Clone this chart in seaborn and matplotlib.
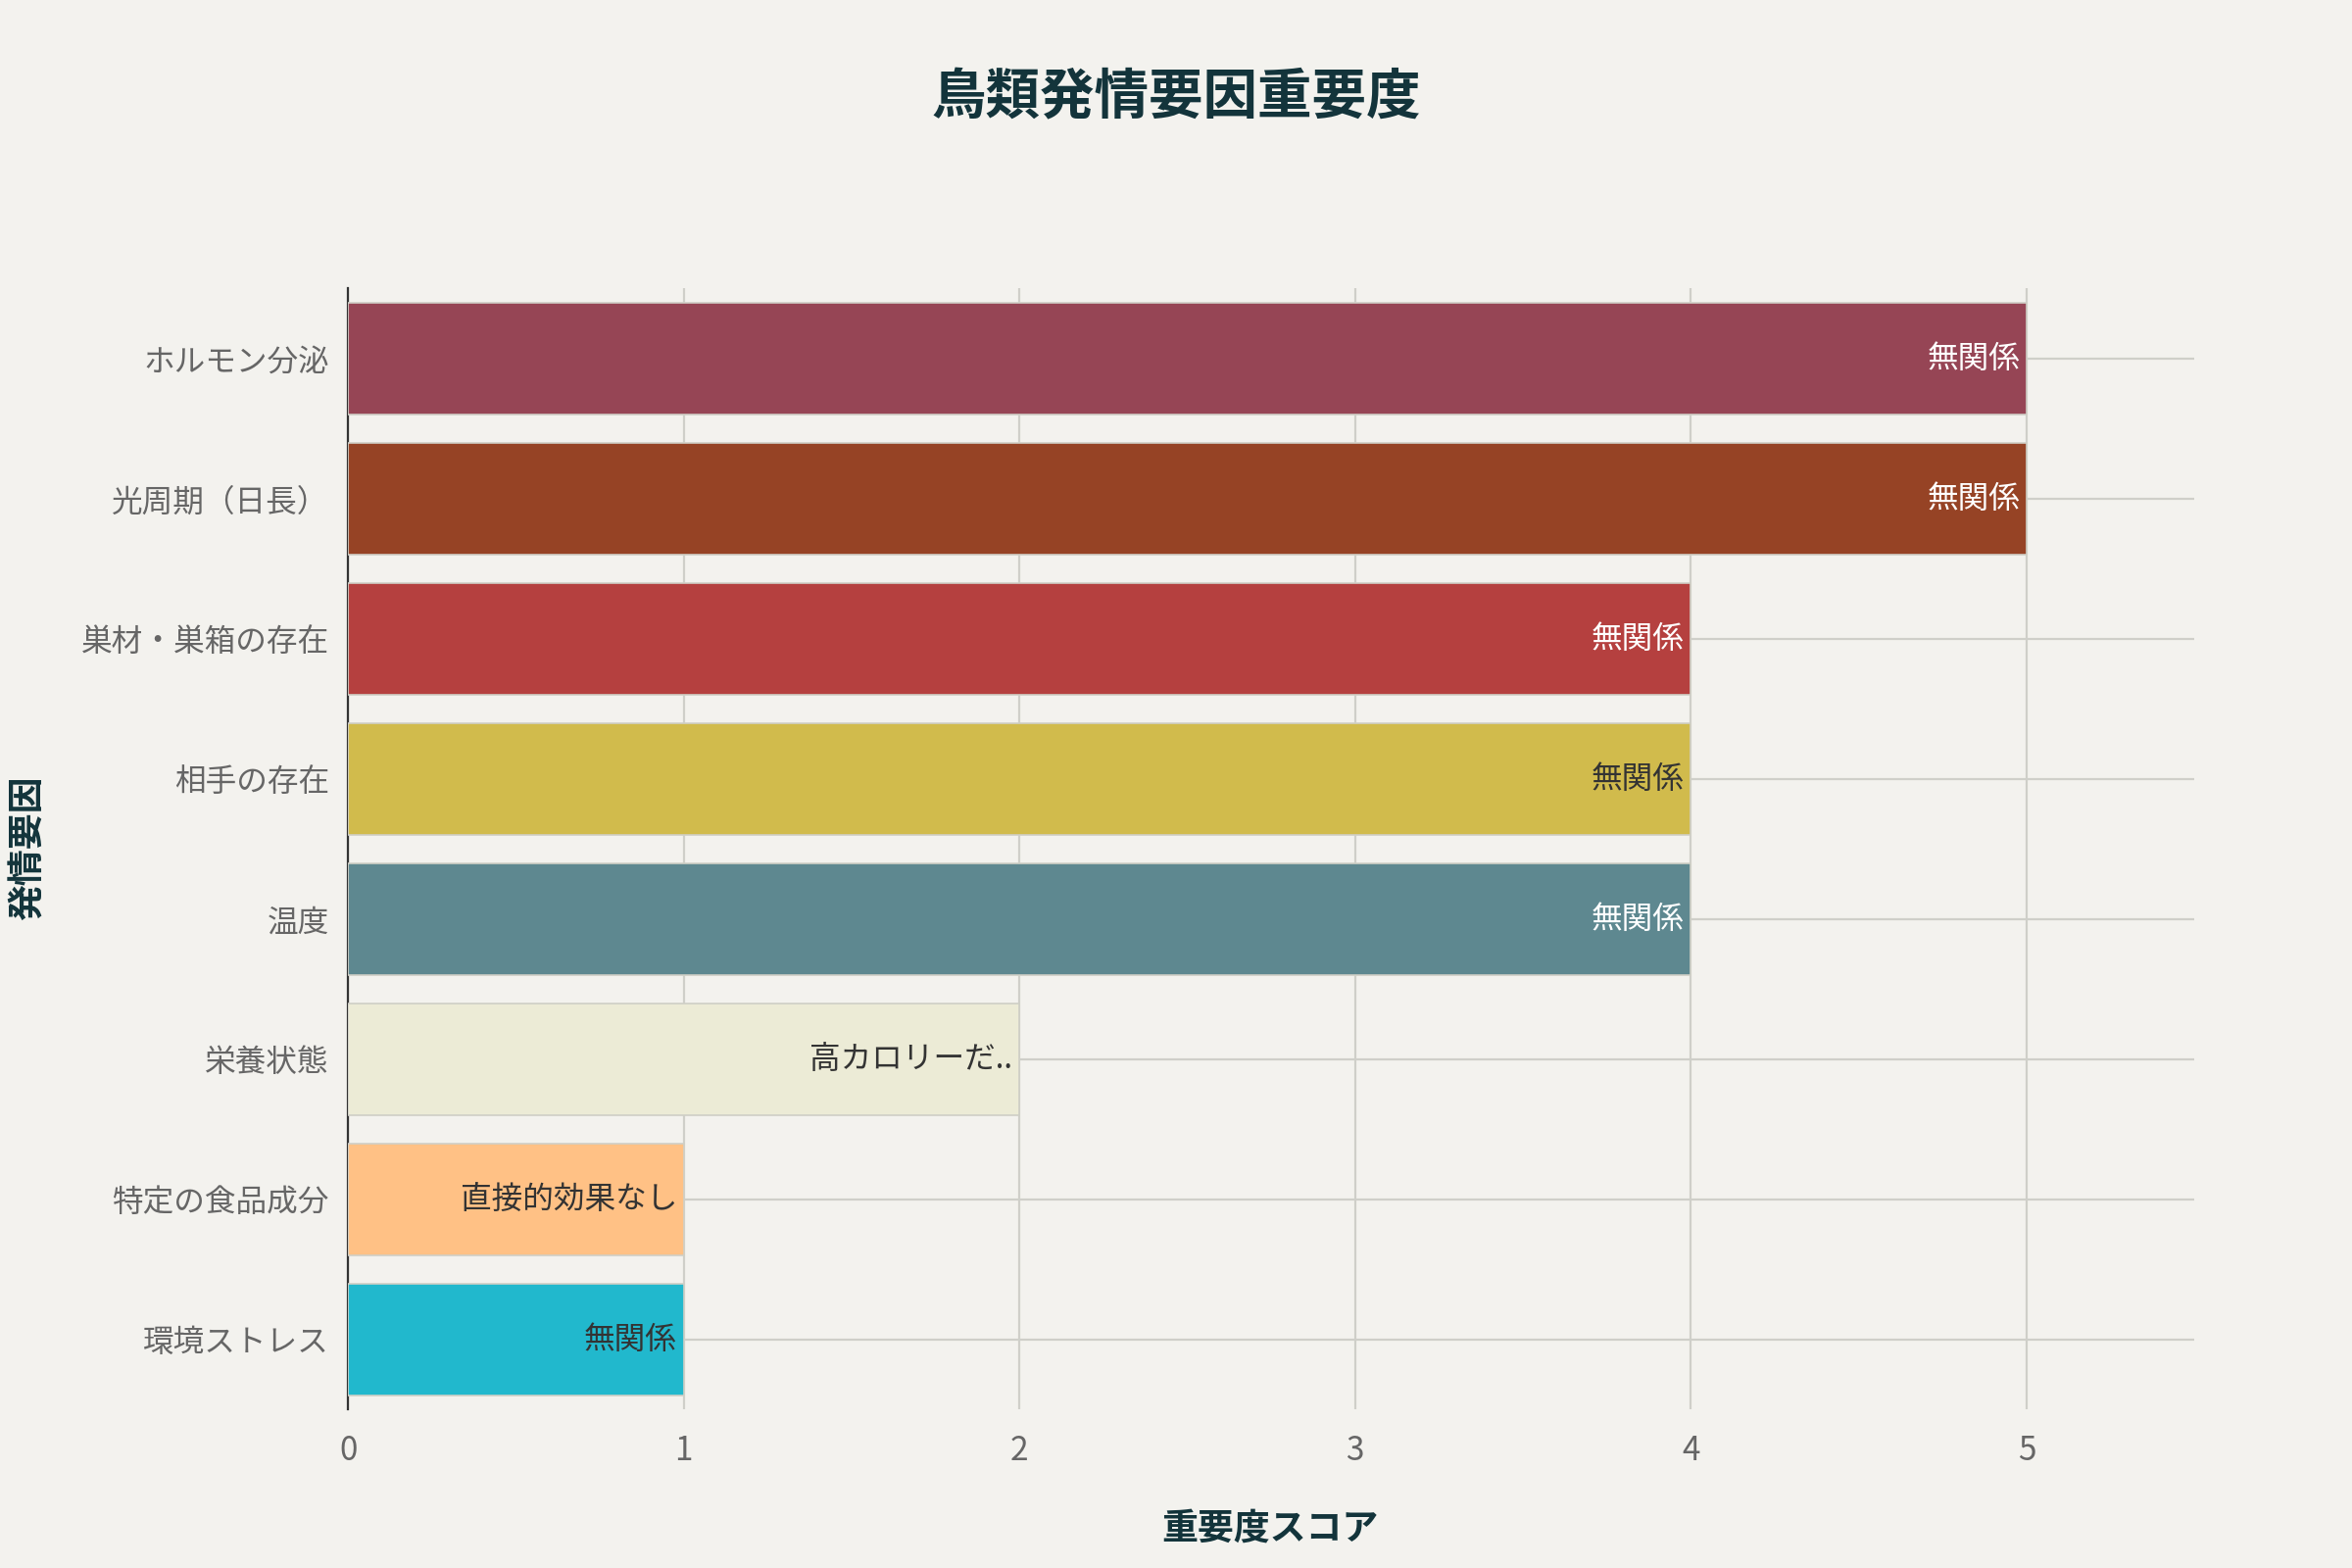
import matplotlib
matplotlib.use("Agg")
import matplotlib.pyplot as plt
import seaborn as sns
import pandas as pd

# Chart data
factors = ["ホルモン分泌", "光周期（日長）", "巣材・巣箱の存在", "相手の存在",
           "温度", "栄養状態", "特定の食品成分", "環境ストレス"]
scores = [5, 5, 4, 4, 4, 2, 1, 1]
notes = ["無関係", "無関係", "無関係", "無関係", "無関係",
         "高カロリーだ..", "直接的効果なし", "無関係"]
bar_colors = ["#964555", "#964325", "#B5403F", "#D1BB4C",
              "#5E8890", "#ECEBD6", "#FFC185", "#21B8CD"]
note_colors = ["white", "white", "white", "#333333",
               "white", "#333333", "#333333", "#333333"]

df = pd.DataFrame({"factor": factors, "score": scores})

bg = "#F3F2EE"
sns.set_style("white")
plt.rcParams["font.family"] = ["Noto Sans CJK JP", "DejaVu Sans"]

fig = plt.figure(figsize=(12, 8), dpi=200, facecolor=bg)
ax = fig.add_axes([0.148, 0.101, 0.785, 0.715])
ax.set_facecolor(bg)

sns.barplot(data=df, x="score", y="factor", hue="factor", palette=bar_colors,
            legend=False, orient="h", width=0.8, edgecolor="#CFCFC6",
            linewidth=0.6, saturation=1, ax=ax, zorder=3)

# Labels inside the bars, right aligned at the bar end
for i, (val, txt, col) in enumerate(zip(scores, notes, note_colors)):
    ax.text(val - 0.02, i, txt, ha="right", va="center", fontsize=11.4,
            color=col, zorder=4)

ax.set_xlim(0, 5.5)
ax.set_ylim(len(factors) - 0.5, -0.5)
ax.set_xticks([0, 1, 2, 3, 4, 5])
ax.grid(True, color="#CFCFC9", linewidth=0.8, zorder=0)
ax.set_axisbelow(True)
ax.tick_params(axis="y", length=5, color="#D4D4CE", labelcolor="#666666",
               labelsize=11.4, pad=2)
ax.tick_params(axis="x", length=5, color="#D4D4CE", labelcolor="#666666",
               labelsize=12, pad=4)

for side in ["top", "right", "bottom"]:
    ax.spines[side].set_visible(False)
ax.spines["left"].set_color("#333333")
ax.spines["left"].set_linewidth(0.8)

ax.set_xlabel("")
ax.set_ylabel("")
fig.text(0.54, 0.025, "重要度スコア", ha="center", va="center",
         fontsize=13.3, fontweight="bold", color="#13343B")
fig.text(0.012, 0.459, "発情要因", ha="center", va="center", rotation=90,
         fontsize=13.3, fontweight="bold", color="#13343B")
fig.text(0.5, 0.937, "鳥類発情要因重要度", ha="center", va="center",
         fontsize=20, fontweight="bold", color="#13343B")

plt.savefig("out.png", dpi=200, facecolor=bg)
